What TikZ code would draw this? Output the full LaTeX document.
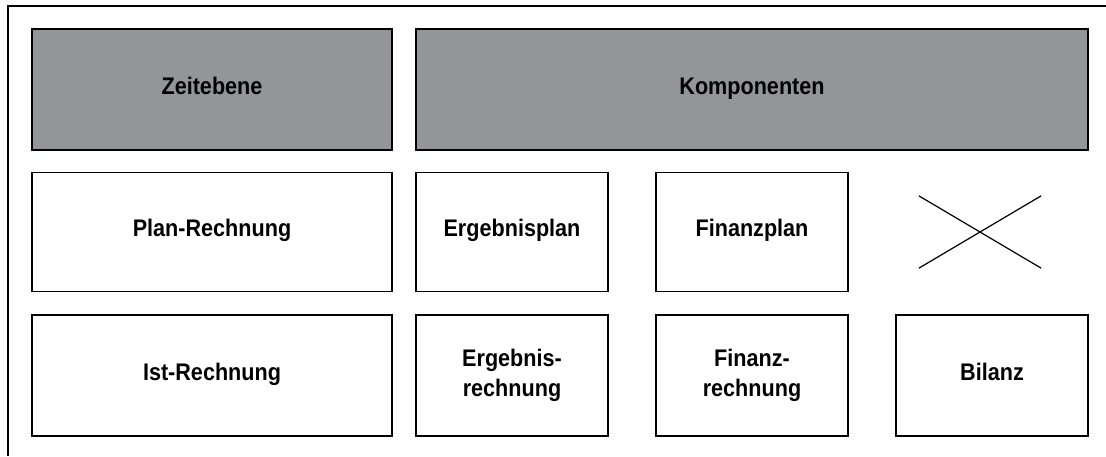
\documentclass[tikz,border=0pt]{standalone}
\usepackage{fontspec}
\setmainfont{Liberation Sans}[FakeStretch=0.9]
\definecolor{kopfgrau}{RGB}{147,149,153}
\tikzset{
	feld/.style = {draw, line width=1.6pt, inner sep=0pt, align=center,
		font=\fontsize{24}{30}\selectfont\bfseries},
	einzeilig/.style = {text height=17pt, text depth=7.5pt},
	kopf/.style = {feld, einzeilig, fill=kopfgrau, minimum height=121pt},
	zeile/.style = {feld, minimum height=119pt},
	schmal/.style = {minimum width=192pt},
	breit/.style = {minimum width=360pt}
}
\begin{document}
\begin{tikzpicture}[x=1pt, y=-1pt]
	\useasboundingbox (0,0) rectangle (1106,456);
	% Rahmen
	\draw[line width=1.6pt] (1106,6) -- (8,6) -- (8,456);
	% Kopfzeile
	\node[kopf, breit] (zeit) at (212,89.5) {Zeitebene};
	\node[kopf, minimum width=672pt] (komp) at (752,89.5) {Komponenten};
	% Plan
	\node[zeile, einzeilig, breit] (plan) at (212,232) {Plan-Rechnung};
	\node[zeile, einzeilig, schmal] (ergplan) at (512,232) {Ergebnisplan};
	\node[zeile, einzeilig, schmal] (finplan) at (752,232) {Finanzplan};
	\node[inner sep=0pt, minimum width=122pt, minimum height=72pt] (leer) at (980,232) {};
	\draw[line width=1.2pt] (leer.north west) -- (leer.south east);
	\draw[line width=1.2pt] (leer.south west) -- (leer.north east);
	% Ist
	\node[zeile, einzeilig, breit, minimum height=121pt] (ist) at (212,375.5) {Ist-Rechnung};
	\foreach \name/\xpos/\txt in {ergre/512/Ergebnis-\\rechnung, finre/752/Finanz-\\rechnung}
		\node[zeile, schmal, minimum height=121pt] (\name) at (\xpos,375.5) {\txt};
	\node[zeile, einzeilig, schmal, minimum height=121pt] (bilanz) at (992,375.5) {Bilanz};
\end{tikzpicture}
\end{document}
